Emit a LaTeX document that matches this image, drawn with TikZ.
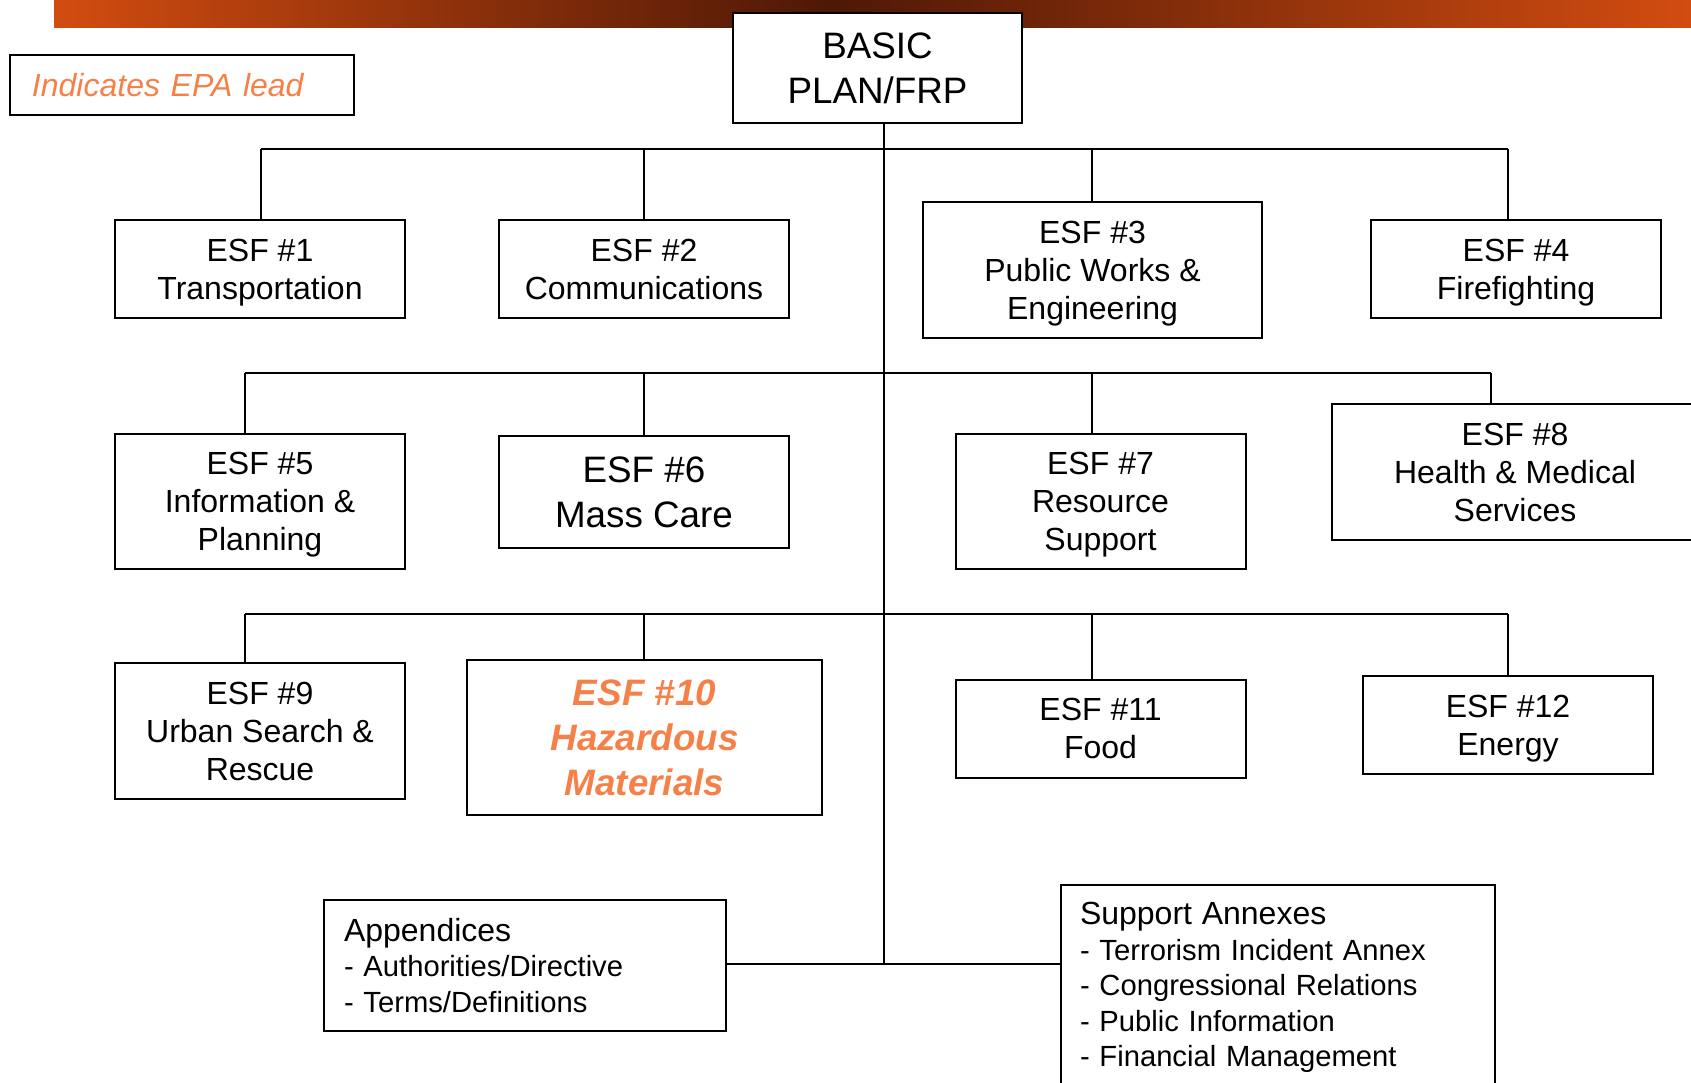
\documentclass[tikz,border=0pt]{standalone}
\usepackage{fontspec}
\setmainfont{Liberation Sans}
\definecolor{leadorange}{RGB}{245,128,72}
\definecolor{barorange}{RGB}{210,76,16}
\definecolor{bardark}{RGB}{78,24,6}
\newcommand{\esffont}{\fontsize{16}{19}\selectfont}
\newcommand{\bigfont}{\fontsize{18.4}{22.6}\selectfont}
\newcommand{\listfont}{\fontsize{14.6}{17.8}\selectfont}

\begin{document}
\begin{tikzpicture}[x=0.5pt,y=-0.5pt,
  box/.style={draw,line width=1pt,inner sep=0pt},
  esf/.style={box,align=center,font=\esffont,text depth=0pt,
    minimum width=145pt,minimum height=49pt},
  listbox/.style={box,align=left,font=\listfont},
  link/.style={line width=1pt}]
\clip (0,0) rectangle (1691,1082);
% title bar
\shade[left color=barorange,right color=bardark] (54,0) rectangle (830,27);
\shade[left color=bardark,right color=barorange] (830,0) rectangle (1691,27);
\node[esf,font=\bigfont,minimum width=144.5pt,minimum height=55pt,fill=white] (basic) at (877.5,68) {BASIC\\PLAN/FRP};
\node[box,align=left,text width=150pt,inner xsep=11pt,minimum height=30pt,
  font=\itshape\esffont,text=leadorange] (lead) at (182,85) {Indicates EPA lead}; % key
% ESF 1-4
\node[esf] (esf1) at (260,269) {ESF \#1\\Transportation};
\node[esf] (esf2) at (644,269) {ESF \#2\\Communications};
\node[esf,minimum width=169.5pt,minimum height=68pt] (esf3) at (1092.5,270) {ESF \#3\\Public Works \&\\Engineering};
\node[esf] (esf4) at (1516,269) {ESF \#4\\Firefighting};
% ESF 5-8
\node[esf,minimum height=67.5pt] (esf5) at (260,501.5) {ESF \#5\\Information \&\\Planning};
\node[esf,font=\bigfont,minimum height=56pt] (esf6) at (644,492) {ESF \#6\\Mass Care};
\node[esf,minimum height=67.5pt] (esf7) at (1100.5,501.5) {ESF \#7\\Resource\\Support};
\node[esf,minimum width=183pt,minimum height=68pt] (esf8) at (1515,472) {ESF \#8\\Health \& Medical\\Services};
% ESF 9-12
\node[esf,minimum height=68pt] (esf9) at (260,731) {ESF \#9\\Urban Search \&\\Rescue};
\node[esf,font=\bfseries\itshape\bigfont,text=leadorange,minimum width=177.5pt,
  minimum height=77.5pt] (esf10) at (644.5,737.5) {ESF \#10\\Hazardous\\Materials};
\node[esf] (esf11) at (1100.5,728.5) {ESF \#11\\Food};
\node[esf] (esf12) at (1508,725) {ESF \#12\\Energy};
% appendices and annexes
\node[listbox,text width=181pt,inner xsep=10pt,minimum height=65.5pt] (app) at (525,965.5)
  {{\fontsize{16}{17.8}\selectfont Appendices}\\- Authorities/Directive\\- Terms/Definitions};
\node[listbox,anchor=north west,text width=198pt,inner xsep=9.5pt,
  minimum height=102.5pt] (annex) at (1060,884)
  {{\fontsize{16}{17.8}\selectfont Support Annexes}\\- Terrorism Incident Annex\\
   - Congressional Relations\\- Public Information\\- Financial Management};
% bus lines
\coordinate (j4) at (884,964);
\foreach \i/\x/\y in {1/261/149,2/644/149,3/1092/149,4/1508/149,
                      5/245/373,6/644/373,7/1092/373,8/1491/373,
                      9/245/614,10/644/614,11/1092/614,12/1508/614}
  \coordinate (d\i) at (\x,\y);
\draw[link] (basic.south -| j4) -- (j4);
\draw[link] (d1) -- (d4);
\draw[link] (d5) -- (d8);
\draw[link] (d9) -- (d12);
\foreach \i in {1,...,12}
  \draw[link] (d\i) -- (d\i |- esf\i.north);
\draw[link] (j4) -- (j4 -| app.east);
\draw[link] (j4) -- (j4 -| annex.west);
\end{tikzpicture}
\end{document}
